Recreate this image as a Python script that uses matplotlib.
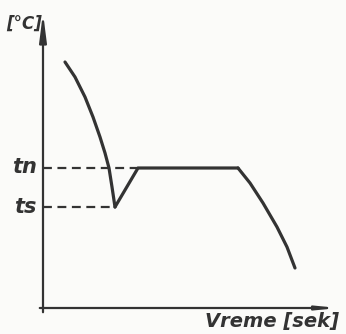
import numpy as np
import matplotlib.pyplot as plt

# temperature levels
tn = 140
ts = 101

# cooling from the melt down to ts (undercooling)
t_cool = [22, 32, 42, 50, 57, 62, 66, 69, 72]
T_cool = [246, 231, 211, 191, 171, 155, 140, 121, 101]

# recalescence up to tn, then the plateau
t_rise = [72, 95, 195]
T_rise = [101, tn, tn]

# cooling of the solid
t_solid = [195, 207, 220, 234, 244, 252]
T_solid = [tn, 125, 105, 81, 61, 40]

ink = '#333333'

fig = plt.figure(figsize=(3.46, 3.34), dpi=100, facecolor='#fbfbf9')
ax = fig.add_axes([0, 0, 1, 1])
ax.set_xlim(-43, 303)
ax.set_ylim(-26, 308)
ax.axis('off')

# axes with arrows
ax.annotate('', xy=(0, 298), xytext=(0, -7),
            arrowprops=dict(arrowstyle='-|>,head_length=1.1,head_width=0.14',
                            lw=1.6, color=ink, mutation_scale=15))
ax.annotate('', xy=(298, 0), xytext=(-6, 0),
            arrowprops=dict(arrowstyle='-|>,head_length=0.9,head_width=0.09',
                            lw=1.6, color=ink, mutation_scale=12))

# dashed guide lines
ax.plot([0, t_rise[1]], [tn, tn], ls=(0, (4, 2.5)), lw=1.6, color=ink)
ax.plot([0, t_cool[-1]], [ts, ts], ls=(0, (4, 2.5)), lw=1.6, color=ink)

# the curve
for t, T in [(t_cool, T_cool), (t_rise, T_rise), (t_solid, T_solid)]:
    ax.plot(t, T, lw=2.3, color=ink, solid_capstyle='round', solid_joinstyle='round')

# labels
lab = dict(style='italic', weight='bold', color=ink, ha='center', va='center')
ax.text(-19, 284, '[°C]', fontsize=12, **lab)
ax.text(-18, 141, 'tn', fontsize=15, **lab)
ax.text(-18, 101, 'ts', fontsize=15, **lab)
ax.text(229, -13, 'Vreme [sek]', fontsize=14, **lab)

fig.savefig('out.png', dpi=100, facecolor=fig.get_facecolor())
